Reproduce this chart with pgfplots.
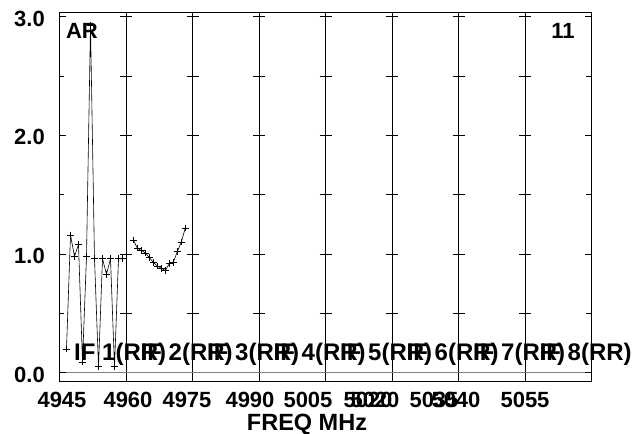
\documentclass[border=0pt]{standalone}
\usepackage{fontspec}
\setmainfont{Liberation Sans}[BoldFont={Liberation Sans Bold}]
\usepackage{pgfplots}
\pgfplotsset{compat=1.18}

% x is the horizontal position on the plot (8 IF panels side by side)
\pgfplotstableread{
x      y
66.5   0.20
70.5   1.16
74.5   0.98
78.5   1.08
82.5   0.09
86.5   0.98
90.5   2.93
94.5   0.96
98.5   0.05
102.5  0.96
106.5  0.83
110.5  0.96
114.5  0.05
118.5  0.96
122.5  0.96
}\ifone
\pgfplotstableread{
x      y
133.3  1.12
137.3  1.05
141.3  1.03
145.3  1.01
149.3  0.97
153.3  0.93
157.3  0.90
161.3  0.88
165.3  0.86
169.3  0.92
173.3  0.93
177.3  1.02
181.3  1.10
185.3  1.22
}\iftwo

\tikzset{
  big/.style={font=\fontsize{22bp}{24bp}\bfseries\selectfont, inner sep=0pt},
  xlab/.style={big, anchor=north, yshift=-11bp},
  iflab/.style={font=\fontsize{24bp}{26bp}\bfseries\selectfont, inner sep=0pt, anchor=base west},
  divtick/.style={line width=0.6bp},
}

\begin{document}
\begin{tikzpicture}
\begin{axis}[
  name=ax,
  scale only axis,
  width=532bp, height=369bp,
  xmin=59, xmax=591,
  ymin=-0.07, ymax=3.04,
  clip=false,
  axis line style={black, line width=0.8bp},
  tick align=inside,
  major tick length=6.5bp,
  minor tick length=5bp,
  tick style={black, line width=0.6bp},
  xtick=\empty,
  minor xtick={77,97,116,143,163,183,202,222,242,269,288,308,347,366,386,413,433,453,473,493,512,538,558,578},
  extra x ticks={126,192.5,259,325.5,392,458.5,525},
  extra x tick labels={},
  extra x tick style={grid=major, major grid style={black, line width=0.6bp}},
  ytick={0,1,2,3},
  yticklabels={0.0,1.0,2.0,3.0},
  minor ytick={0.5,1.5,2.5},
  yticklabel style={font=\fontsize{22bp}{24bp}\bfseries\selectfont, anchor=east, inner sep=0pt, xshift=-14bp, yshift=-2bp},
  extra y ticks={0},
  extra y tick labels={},
  extra y tick style={grid=major, major grid style={gray, line width=1bp}},
]

\addplot[black, line width=0.6bp, mark=+, mark size=3.3bp, mark options={line width=0.6bp}] table[x=x, y=y] {\ifone};
\addplot[black, line width=0.6bp, mark=+, mark size=3.3bp, mark options={line width=0.6bp}] table[x=x, y=y] {\iftwo};

% short crossing ticks on the panel dividers
\pgfplotsinvokeforeach{126,192.5,259,325.5,392,458.5,525}{
  \draw[divtick] (axis cs:#1,0.5) ++(-6bp,0bp) -- ++(12bp,0bp);
  \draw[divtick] (axis cs:#1,1) ++(-6bp,0bp) -- ++(12bp,0bp);
  \draw[divtick] (axis cs:#1,1.5) ++(-6bp,0bp) -- ++(12bp,0bp);
  \draw[divtick] (axis cs:#1,2) ++(-6bp,0bp) -- ++(12bp,0bp);
  \draw[divtick] (axis cs:#1,2.5) ++(-6bp,0bp) -- ++(12bp,0bp);
  \draw[divtick] (axis cs:#1,3) ++(-6bp,0bp) -- ++(12bp,0bp);
}

% frequency labels under the panels
\node[xlab] at (axis cs:62,-0.07) {4945};
\node[xlab] at (axis cs:128,-0.07) {4960};
\node[xlab] at (axis cs:187,-0.07) {4975};
\node[xlab] at (axis cs:250,-0.07) {4990};
\node[xlab] at (axis cs:308,-0.07) {5005};
\node[xlab] at (axis cs:368,-0.07) {5020};
\node[xlab] at (axis cs:375,-0.07) {5020};
\node[xlab] at (axis cs:434,-0.07) {5035};
\node[xlab] at (axis cs:456,-0.07) {5040};
\node[xlab] at (axis cs:525,-0.07) {5055};
\node[font=\fontsize{23.5bp}{26bp}\bfseries\selectfont, inner sep=0pt, anchor=north, yshift=-33bp] at (axis cs:307,-0.07) {FREQ MHz};

% IF labels
\node[iflab] at (axis cs:74,0.107) {IF 1(RR)};
\node[iflab] at (axis cs:140.5,0.107) {IF 2(RR)};
\node[iflab] at (axis cs:207,0.107) {IF 3(RR)};
\node[iflab] at (axis cs:273.5,0.107) {IF 4(RR)};
\node[iflab] at (axis cs:340,0.107) {IF 5(RR)};
\node[iflab] at (axis cs:406.5,0.107) {IF 6(RR)};
\node[iflab] at (axis cs:473,0.107) {IF 7(RR)};
\node[iflab] at (axis cs:539.5,0.107) {IF 8(RR)};

\node[big] at (axis cs:82,2.88) {AR};
\node[big] at (axis cs:563,2.88) {11};
\end{axis}
\pgfresetboundingbox
\path (ax.south west) ++(-59bp,-53bp) rectangle ([shift={(43bp,12bp)}]ax.north east);
\end{tikzpicture}
\end{document}
